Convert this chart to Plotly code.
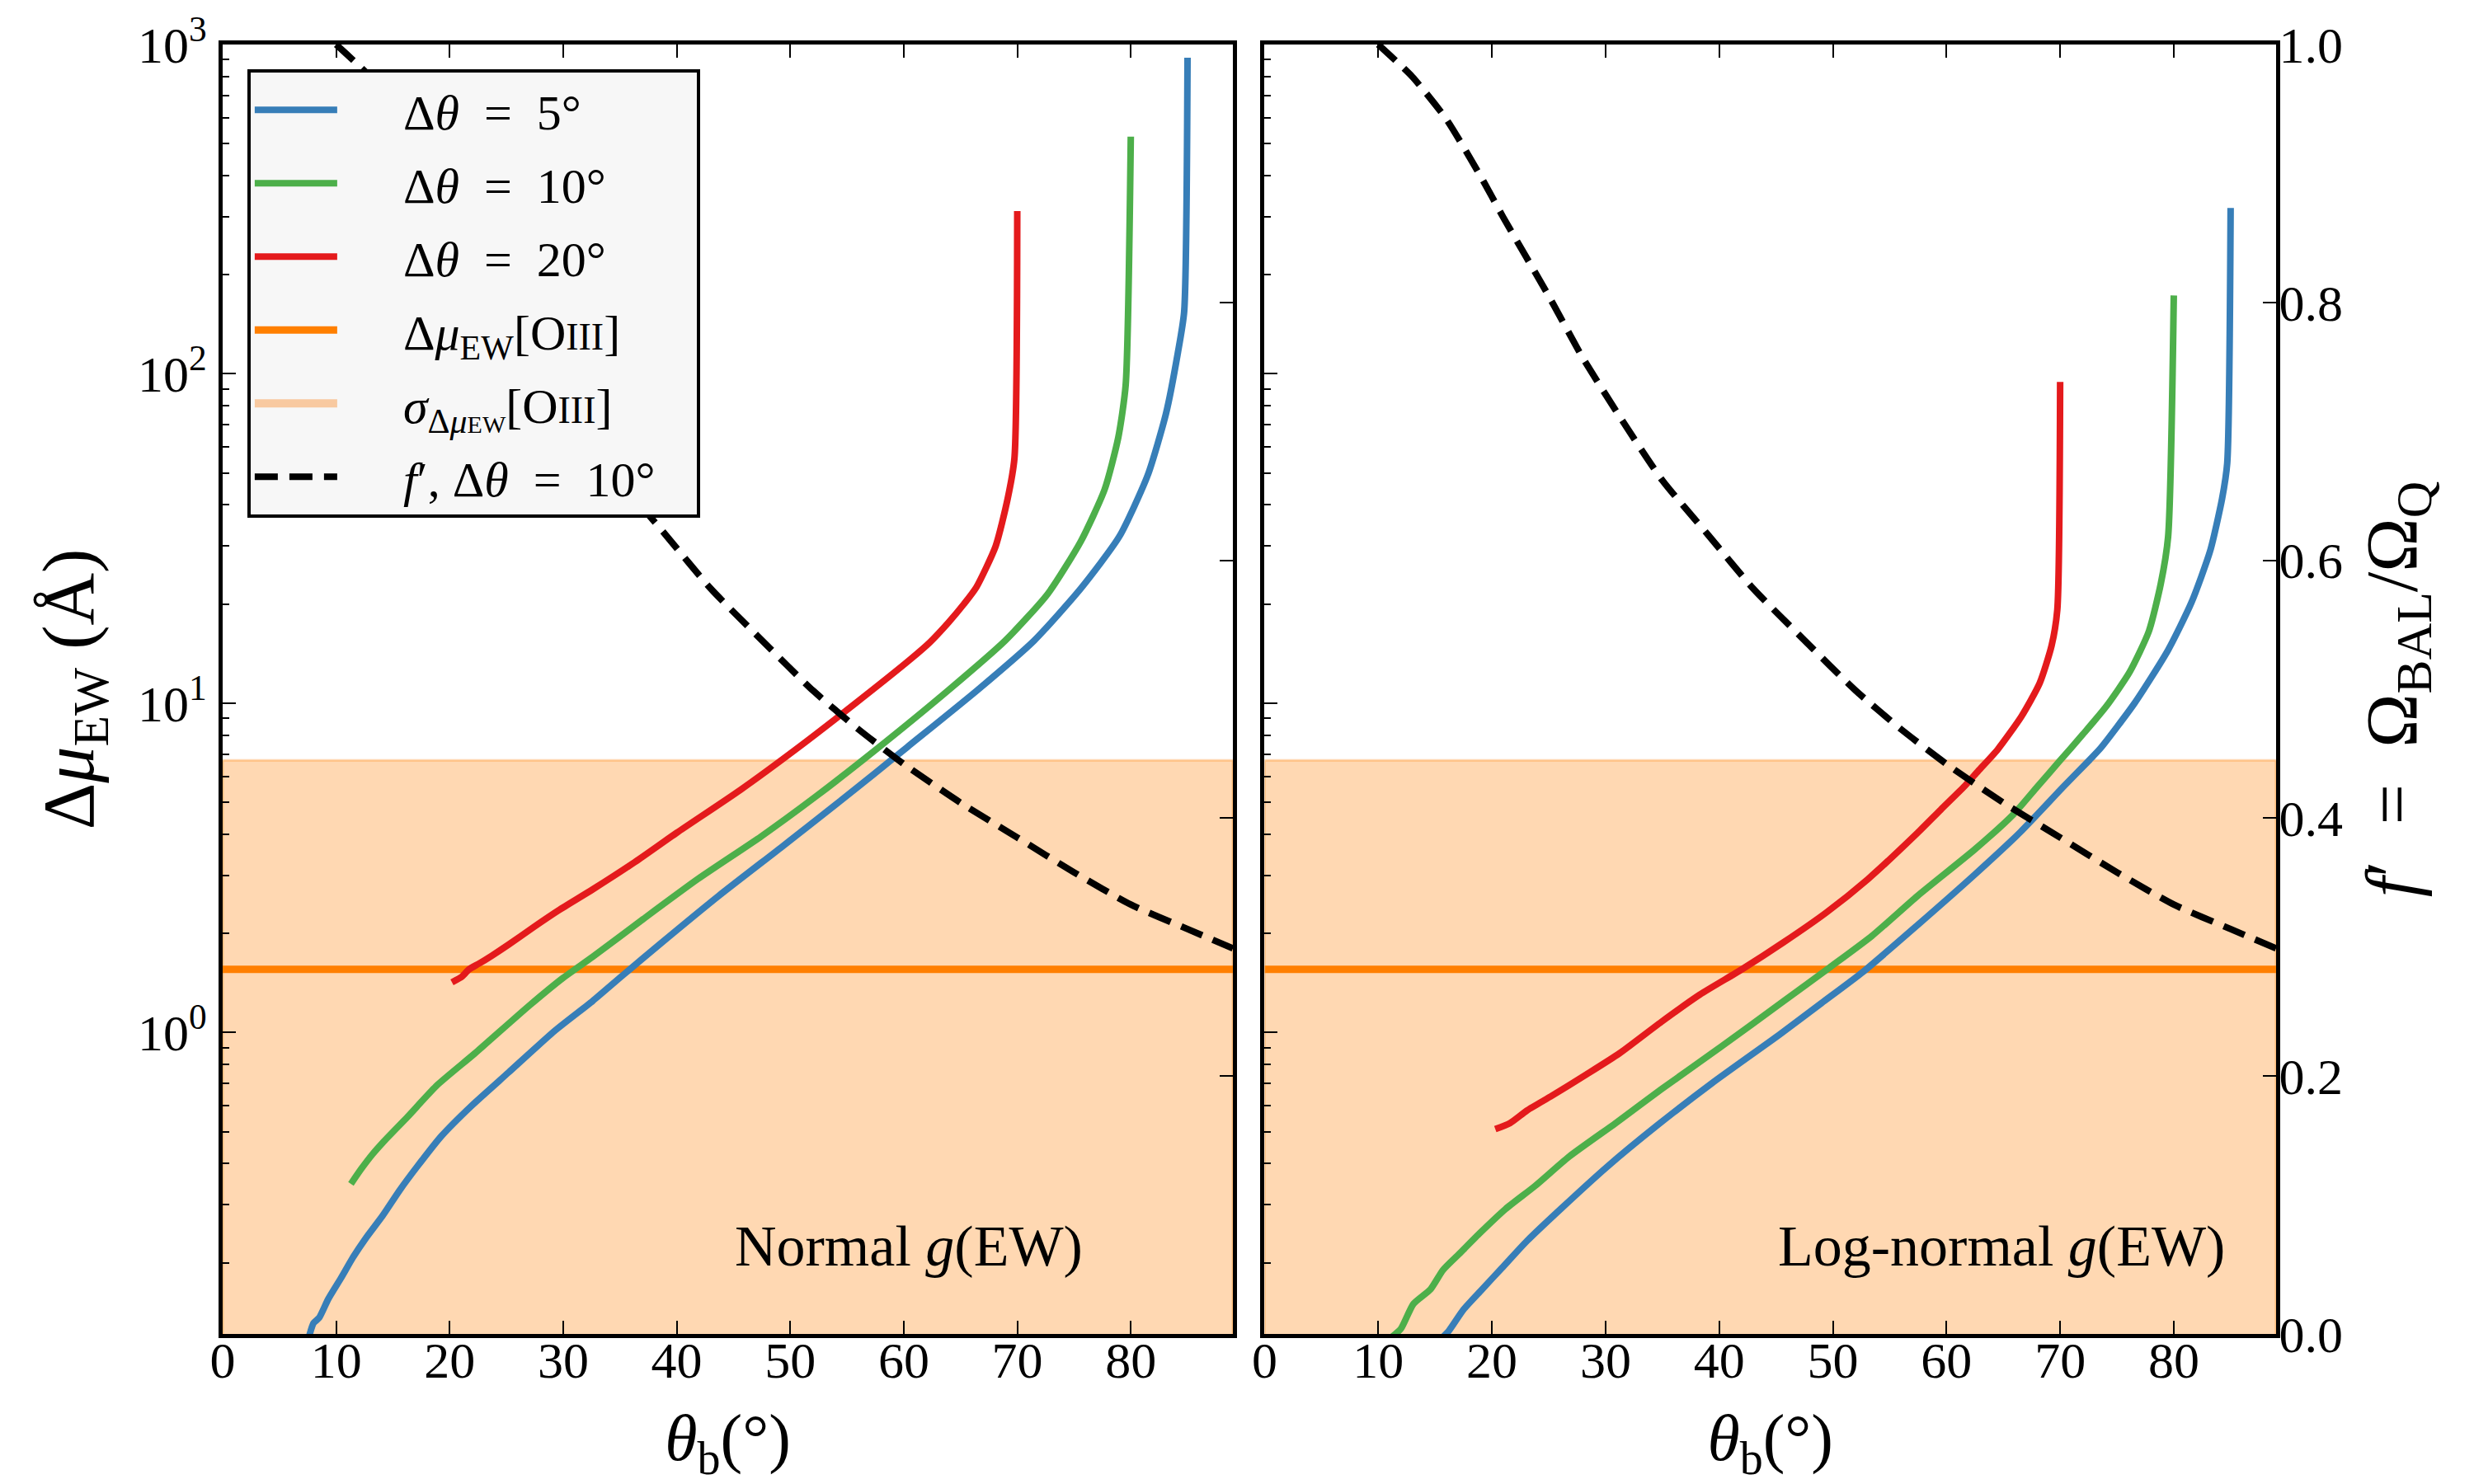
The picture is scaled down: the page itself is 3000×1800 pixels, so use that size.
import numpy as np
import plotly.graph_objects as go

# ---------------- data ----------------
# Left panel: Normal g(EW)
theta_n_5 = [7.4, 7.6, 8.0, 8.5, 9.3, 10.4, 11.5, 12.6, 14.1, 15.6, 17.1, 19.3, 21.9, 25.2, 29.3, 32.6,
             35.2, 38.5, 43.7, 49.3, 54.1, 57.4, 60.3, 66.5, 71.5, 75.6, 79.0, 81.5, 83.1, 84.15, 84.7, 85.0]
dmu_n_5 = [0.112, 0.119, 0.131, 0.136, 0.155, 0.179, 0.208, 0.237, 0.278, 0.332, 0.390, 0.486, 0.598, 0.757,
           1.015, 1.247, 1.487, 1.853, 2.60, 3.67, 4.95, 6.1, 7.35, 10.96, 15.5, 22.3, 32.1, 49.3, 75.7,
           116, 154, 912]

theta_n_10 = [11.3, 12.2, 13.2, 14.1, 16.3, 18.9, 22.2, 27.05, 30.0, 32.6, 37.05, 41.9, 47.4, 52.2, 57.4,
              63.95, 68.95, 72.7, 75.6, 77.7, 78.9, 79.55, 80.0]
dmu_n_10 = [0.347, 0.385, 0.427, 0.463, 0.555, 0.692, 0.863, 1.21, 1.466, 1.698, 2.21, 2.93, 3.93, 5.19,
            7.16, 10.96, 15.5, 21.5, 31.0, 44.6, 64.1, 92.4, 525]

theta_n_20 = [20.2, 21.1, 21.7, 22.6, 23.7, 25.2, 27.4, 29.6, 32.6, 36.3, 40.0, 45.6, 50.4, 55.6, 60.6,
              62.3, 63.95, 65.3, 66.4, 68.1, 69.15, 69.75, 70.0]
dmu_n_20 = [1.42, 1.48, 1.555, 1.62, 1.71, 1.85, 2.09, 2.35, 2.72, 3.29, 4.04, 5.45, 7.2, 9.9, 13.6, 15.3,
            17.6, 20.0, 22.5, 30.0, 41.7, 55.3, 312]

# Right panel: Log-normal g(EW)
theta_l_5 = [15.7, 16.2, 17.5, 19.0, 20.9, 23.1, 26.05, 30.1, 34.6, 39.4, 45.3, 49.0, 52.7, 57.46, 62.5,
             66.5, 70.3, 72.6, 73.6, 76.55, 79.5, 81.55, 83.2, 84.25, 84.7, 85.0]
dmu_l_5 = [0.119, 0.124, 0.144, 0.164, 0.193, 0.233, 0.291, 0.390, 0.524, 0.703, 0.985, 1.228, 1.532, 2.12,
           3.02, 4.06, 5.58, 6.73, 7.33, 10.0, 14.5, 20.2, 29.0, 41.8, 53.5, 319]

theta_l_10 = [11.2, 12.0, 13.1, 14.6, 15.7, 17.2, 19.0, 21.2, 23.8, 26.8, 30.9, 34.9, 40.1, 45.7, 49.75,
              53.45, 57.46, 62.5, 65.9, 68.0, 69.9, 72.0, 74.05, 76.1, 77.8, 78.85, 79.5, 80.0]
dmu_l_10 = [0.119, 0.126, 0.150, 0.166, 0.190, 0.214, 0.247, 0.291, 0.342, 0.420, 0.531, 0.672, 0.902,
            1.247, 1.578, 1.966, 2.60, 3.6, 4.6, 5.58, 6.64, 8.04, 9.77, 12.4, 16.5, 23.0, 32.0, 173]

theta_l_20 = [20.3, 21.6, 23.1, 25.3, 28.3, 31.2, 34.9, 38.3, 42.0, 45.7, 49.4, 53.1, 57.46, 59.5, 61.56,
              62.8, 64.5, 66.6, 68.2, 69.25, 69.75, 70.0]
dmu_l_20 = [0.509, 0.531, 0.580, 0.643, 0.745, 0.863, 1.076, 1.303, 1.555, 1.882, 2.31, 2.925, 4.04, 4.75,
            5.58, 6.23, 7.23, 9.12, 11.5, 14.96, 19.2, 94.5]

# f' = Omega_BAL / Omega_Q for delta theta = 10 deg (same in both panels)
theta_f = [10.0, 13.0, 16.0, 19.0, 21.0, 25.0, 28.0, 31.5, 35.0, 39.0, 43.0, 47.5, 52.0, 56.0, 60.0,
           65.0, 70.0, 75.0, 80.0, 85.0, 89.0]
f_prime = [1.0, 0.975, 0.942, 0.898, 0.866, 0.805, 0.757, 0.708, 0.662, 0.62, 0.578, 0.538, 0.499, 0.469,
           0.442, 0.412, 0.385, 0.358, 0.333, 0.314, 0.299]

# [OIII] reference value and its 1-sigma band
theta_span = [0, 89]
dmu_oiii = 1.555
sigma_low = 0.01
sigma_high = 6.7

panel_labels = ["Normal <i>g</i>(EW)", "Log-normal <i>g</i>(EW)"]
x_ticks = [0, 10, 20, 30, 40, 50, 60, 70, 80]
y_ticks = [1, 10, 100, 1000]
y_ticktext = ["10<sup>0</sup>", "10<sup>1</sup>", "10<sup>2</sup>", "10<sup>3</sup>"]
f_ticks = [0.0, 0.2, 0.4, 0.6, 0.8, 1.0]

# ---------------- styles ----------------
BLUE, GREEN, RED, ORANGE = "#377eb8", "#4daf4a", "#e41a1c", "#ff7f00"
FONT = "Liberation Serif"
LW = 8
PAD = "\u00a0" * 5
TAIL = "\u00a0" * 3
EQ = "\u2002=\u2002"
OIII = "[O<span style='font-size:46px'>III</span>]"

fig = go.Figure()

panels = [
    dict(xa="x", ya="y", fa="y2",
         curves=[(theta_n_5, dmu_n_5), (theta_n_10, dmu_n_10), (theta_n_20, dmu_n_20)]),
    dict(xa="x2", ya="y3", fa="y4",
         curves=[(theta_l_5, dmu_l_5), (theta_l_10, dmu_l_10), (theta_l_20, dmu_l_20)]),
]
names = [PAD + "Δ<i>θ</i>" + EQ + "5°", PAD + "Δ<i>θ</i>" + EQ + "10°", PAD + "Δ<i>θ</i>" + EQ + "20°"]
colors = [BLUE, GREEN, RED]

for pi, p in enumerate(panels):
    show = pi == 0
    # sigma band (legend entry drawn by a separate legend-only trace)
    fig.add_trace(go.Scatter(
        x=[theta_span[0], theta_span[1], theta_span[1], theta_span[0], theta_span[0]],
        y=[sigma_low, sigma_low, sigma_high, sigma_high, sigma_low],
        fill="toself", fillcolor="rgba(255,127,0,0.30)", mode="lines",
        line=dict(color="rgba(255,127,0,0.30)", width=3),
        showlegend=False, xaxis=p["xa"], yaxis=p["ya"], hoverinfo="skip"))
    # orange line
    fig.add_trace(go.Scatter(
        x=theta_span, y=[dmu_oiii, dmu_oiii], mode="lines",
        line=dict(color=ORANGE, width=9),
        name=PAD + "Δ<i>μ</i><sub>EW</sub>" + OIII,
        legendrank=4, legendgroup="g4", showlegend=show, xaxis=p["xa"], yaxis=p["ya"]))
    for ci, (tx, ty) in enumerate(p["curves"]):
        fig.add_trace(go.Scatter(
            x=tx, y=ty, mode="lines", line=dict(color=colors[ci], width=LW, shape="spline", smoothing=0.6),
            name=names[ci], legendrank=ci + 1, legendgroup="g%d" % (ci + 1), showlegend=show,
            xaxis=p["xa"], yaxis=p["ya"]))
    fig.add_trace(go.Scatter(
        x=theta_f, y=f_prime, mode="lines",
        line=dict(color="black", width=LW, dash="28px,14px", shape="spline", smoothing=0.6),
        name=PAD + "<i>f</i>′, Δ<i>θ</i>" + EQ + "10°" + TAIL, legendrank=6, legendgroup="g6",
        showlegend=show, xaxis=p["xa"], yaxis=p["fa"]))

# legend-only entry for the sigma band
fig.add_trace(go.Scatter(
    x=[None], y=[None], mode="lines", line=dict(color="#f8c9a0", width=40),
    name=PAD + "<i>σ</i><sub>Δ<i>μ</i><span style='font-size:30px'>EW</span></sub>" + OIII,
    legendrank=5, legendgroup="g5", showlegend=True, xaxis="x", yaxis="y"))

# minor tick positions for the log axis
minor_vals = [m * 10 ** e for e in range(-1, 3) for m in range(2, 10)]

ymin_log = np.log10(0.1215)
axis_common = dict(showline=True, linecolor="black", linewidth=5, showgrid=False, zeroline=False,
                   ticks="inside", tickcolor="black", tickwidth=2, ticklen=16,
                   tickfont=dict(family=FONT, size=62, color="black"))

xcommon = dict(axis_common, range=[0, 89], tickvals=x_ticks, mirror="ticks", ticklabelstandoff=-26,
               title=dict(text="<i>θ</i><sub>b</sub>(°)", font=dict(family=FONT, size=80, color="black"),
                          standoff=36))
ylog = dict(axis_common, type="log", range=[ymin_log, 3], tickvals=y_ticks, ticktext=y_ticktext,
            minor=dict(tickvals=minor_vals, ticks="inside", ticklen=8, tickwidth=2, tickcolor="black"))
yf = dict(axis_common, range=[0, 1], tickvals=f_ticks, tickformat=".1f")

D1 = 0.492
D2 = 0.5074
fig.update_layout(
    width=3000, height=1800,
    margin=dict(l=270, r=240, t=54, b=182),
    paper_bgcolor="white", plot_bgcolor="white",
    font=dict(family=FONT, color="black"),
    xaxis=dict(xcommon, domain=[0, D1], anchor="y"),
    xaxis2=dict(xcommon, domain=[D2, 1], anchor="y3"),
    yaxis=dict(ylog, anchor="x", side="left", ticklabelstandoff=2,
               title=dict(text="Δ<i>μ</i><sub>EW</sub> (Å)", font=dict(family=FONT, size=88, color="black"),
                          standoff=26)),
    yaxis2=dict(yf, overlaying="y", anchor="x", side="right", showticklabels=False),
    yaxis3=dict(ylog, matches="y", anchor="x2", side="left", showticklabels=False),
    yaxis4=dict(yf, overlaying="y3", anchor="x2", side="right", ticklabelstandoff=-14,
                title=dict(text="<i>f</i>′\u2002=\u2002Ω<sub>BAL</sub>/Ω<sub>Q</sub>",
                           font=dict(family=FONT, size=88, color="black"), standoff=30)),
    legend=dict(x=0.012, y=0.981, xanchor="left", yanchor="top",
                bgcolor="#f7f7f7", bordercolor="black", borderwidth=4,
                font=dict(family=FONT, size=60, color="black"),
                traceorder="grouped", itemwidth=100, tracegroupgap=8),
    showlegend=True,
)

for xa, ya, label in [("x", "y", panel_labels[0]), ("x2", "y3", panel_labels[1])]:
    fig.add_annotation(x=45, y=np.log10(0.225), xref=xa, yref=ya, text=label, showarrow=False,
                       xanchor="left", yanchor="middle",
                       font=dict(family=FONT, size=70, color="black"))

fig.write_html("out.html")
